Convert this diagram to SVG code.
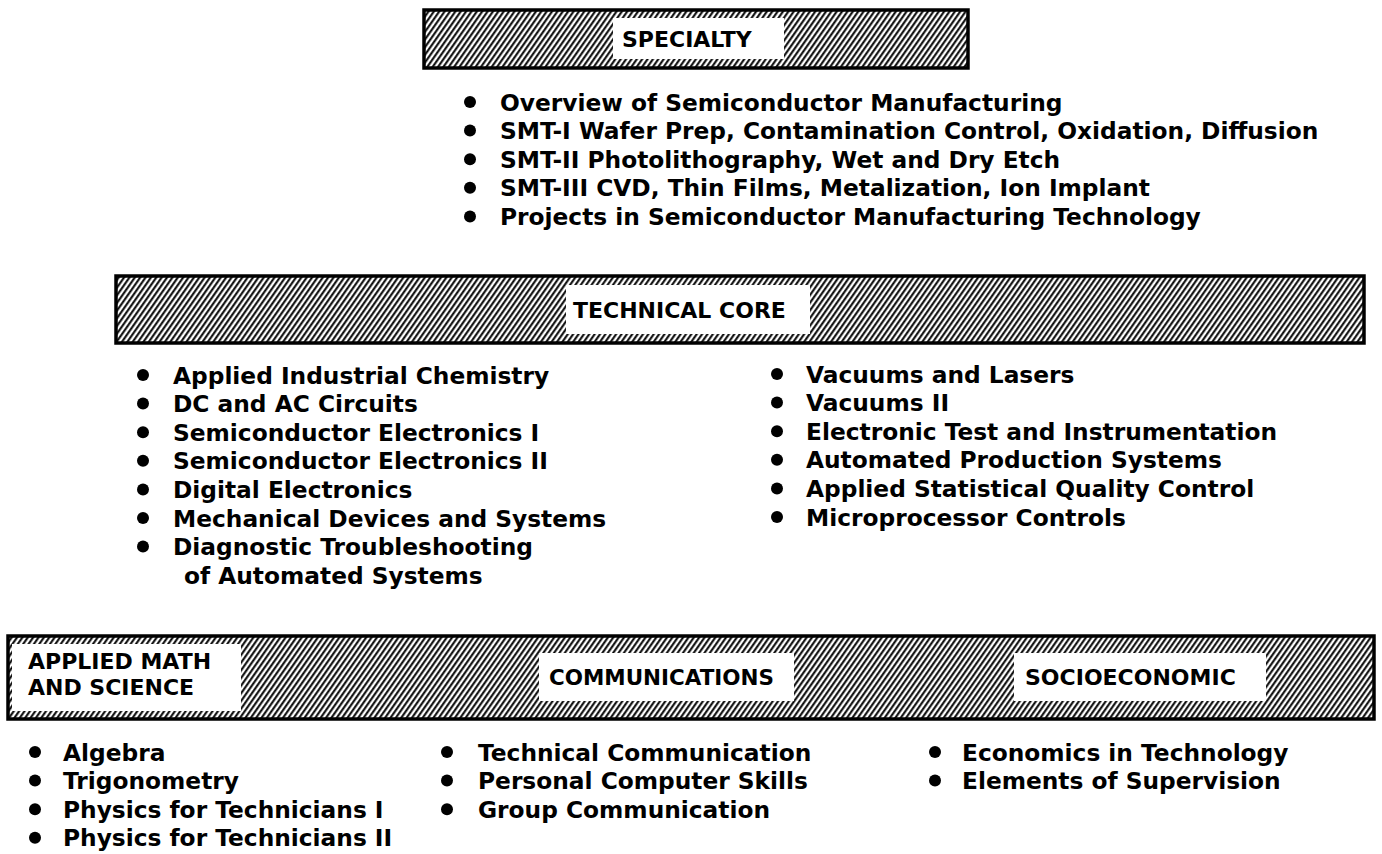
<svg xmlns="http://www.w3.org/2000/svg" width="1382" height="854" viewBox="0 0 1382 854">
<defs>
<pattern id="hatch" patternUnits="userSpaceOnUse" width="4.4" height="4.4" patternTransform="rotate(35)">
<rect width="4.4" height="4.4" fill="#fff"/>
<line x1="1.2" y1="-1" x2="1.2" y2="5.4" stroke="#000" stroke-width="2"/>
</pattern>
</defs>
<style>
.bar{fill:url(#hatch);stroke:#000;stroke-width:3.5}
.lab{fill:#fff}
.h{font-family:"DejaVu Sans",Verdana,sans-serif;font-weight:bold;font-size:22px;fill:#000}
.t{font-family:"DejaVu Sans",Verdana,sans-serif;font-weight:bold;font-size:23.3px;fill:#000}
.b{fill:#000}
</style>
<rect width="1382" height="854" fill="#fff"/>

<g id="specialty">
<rect class="bar" x="424" y="10" width="544" height="58"/>
<rect class="lab" x="613" y="18" width="171" height="41"/>
<text class="h" x="622" y="46.5">SPECIALTY</text>
</g>
<g id="specialty-list">
<circle class="b" cx="470" cy="102" r="6"/><text class="t" x="500" y="110.5">Overview of Semiconductor Manufacturing</text>
<circle class="b" cx="470" cy="130.6" r="6"/><text class="t" x="500" y="139.1">SMT-I Wafer Prep, Contamination Control, Oxidation, Diffusion</text>
<circle class="b" cx="470" cy="159.2" r="6"/><text class="t" x="500" y="167.7">SMT-II Photolithography, Wet and Dry Etch</text>
<circle class="b" cx="470" cy="187.8" r="6"/><text class="t" x="500" y="196.3">SMT-III CVD, Thin Films, Metalization, Ion Implant</text>
<circle class="b" cx="470" cy="216.4" r="6"/><text class="t" x="500" y="224.9">Projects in Semiconductor Manufacturing Technology</text>
</g>

<g id="technical-core">
<rect class="bar" x="116" y="276" width="1248" height="67"/>
<rect class="lab" x="566" y="285" width="244" height="49"/>
<text class="h" x="573" y="317.5">TECHNICAL CORE</text>
</g>
<g id="core-list-left">
<circle class="b" cx="143" cy="375" r="6"/><text class="t" x="173" y="383.5">Applied Industrial Chemistry</text>
<circle class="b" cx="143" cy="403.6" r="6"/><text class="t" x="173" y="412.1">DC and AC Circuits</text>
<circle class="b" cx="143" cy="432.2" r="6"/><text class="t" x="173" y="440.7">Semiconductor Electronics I</text>
<circle class="b" cx="143" cy="460.8" r="6"/><text class="t" x="173" y="469.3">Semiconductor Electronics II</text>
<circle class="b" cx="143" cy="489.4" r="6"/><text class="t" x="173" y="497.9">Digital Electronics</text>
<circle class="b" cx="143" cy="518" r="6"/><text class="t" x="173" y="526.5">Mechanical Devices and Systems</text>
<circle class="b" cx="143" cy="546.6" r="6"/><text class="t" x="173" y="555.1">Diagnostic Troubleshooting</text>
<text class="t" x="184" y="583.7">of Automated Systems</text>
</g>
<g id="core-list-right">
<circle class="b" cx="777" cy="374" r="6"/><text class="t" x="806" y="382.5">Vacuums and Lasers</text>
<circle class="b" cx="777" cy="402.6" r="6"/><text class="t" x="806" y="411.1">Vacuums II</text>
<circle class="b" cx="777" cy="431.2" r="6"/><text class="t" x="806" y="439.7">Electronic Test and Instrumentation</text>
<circle class="b" cx="777" cy="459.8" r="6"/><text class="t" x="806" y="468.3">Automated Production Systems</text>
<circle class="b" cx="777" cy="488.4" r="6"/><text class="t" x="806" y="496.9">Applied Statistical Quality Control</text>
<circle class="b" cx="777" cy="517" r="6"/><text class="t" x="806" y="525.5">Microprocessor Controls</text>
</g>

<g id="general">
<rect class="bar" x="8" y="636" width="1366" height="83"/>
<rect class="lab" x="12" y="644" width="229" height="67"/>
<text class="h" x="28" y="669">APPLIED MATH</text>
<text class="h" x="28" y="695">AND SCIENCE</text>
<rect class="lab" x="539" y="653" width="255" height="48"/>
<text class="h" x="549" y="685" textLength="225" lengthAdjust="spacingAndGlyphs">COMMUNICATIONS</text>
<rect class="lab" x="1014" y="653" width="252" height="48"/>
<text class="h" x="1025" y="685">SOCIOECONOMIC</text>
</g>
<g id="math-list">
<circle class="b" cx="35" cy="752" r="6"/><text class="t" x="63" y="760.5">Algebra</text>
<circle class="b" cx="35" cy="780.6" r="6"/><text class="t" x="63" y="789.1">Trigonometry</text>
<circle class="b" cx="35" cy="809.2" r="6"/><text class="t" x="63" y="817.7">Physics for Technicians I</text>
<circle class="b" cx="35" cy="837.8" r="6"/><text class="t" x="63" y="846.3">Physics for Technicians II</text>
</g>
<g id="comm-list">
<circle class="b" cx="447" cy="752" r="6"/><text class="t" x="478" y="760.5">Technical Communication</text>
<circle class="b" cx="447" cy="780.6" r="6"/><text class="t" x="478" y="789.1">Personal Computer Skills</text>
<circle class="b" cx="447" cy="809.2" r="6"/><text class="t" x="478" y="817.7">Group Communication</text>
</g>
<g id="socio-list">
<circle class="b" cx="935" cy="752" r="6"/><text class="t" x="962" y="760.5">Economics in Technology</text>
<circle class="b" cx="935" cy="780.6" r="6"/><text class="t" x="962" y="789.1">Elements of Supervision</text>
</g>
<g id="connectors"/>
</svg>
